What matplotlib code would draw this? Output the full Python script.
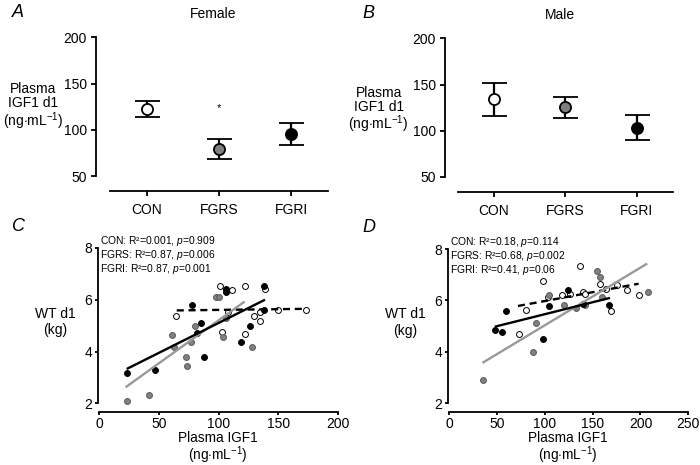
import matplotlib.pyplot as plt

plt.rcParams['font.family'] = ['Liberation Sans', 'DejaVu Sans']
plt.rcParams['mathtext.fontset'] = 'custom'
plt.rcParams['mathtext.rm'] = 'Liberation Sans'
plt.rcParams['mathtext.it'] = 'Liberation Sans:italic'

groups = ["CON", "FGRS", "FGRI"]
group_colors = ["white", "#808080", "black"]

# panel A / B: mean +- SEM of plasma IGF1 d1
female_mean = [122.5, 79.5, 95.5]
female_sem = [9.0, 11.0, 12.0]
male_mean = [134.0, 125.5, 103.0]
male_sem = [18.0, 11.5, 13.5]

# panel C: female WT d1 vs plasma IGF1
fem_con_x = [64, 101, 111, 108, 103, 122, 122, 130, 135, 135, 139, 150, 173]
fem_con_y = [5.39, 6.52, 6.36, 5.51, 4.75, 6.52, 4.68, 5.38, 5.51, 5.2, 6.41, 5.59, 5.59]
fem_fgrs_x = [23, 42, 61, 63, 73, 74, 77, 80, 98, 100, 104, 106, 128]
fem_fgrs_y = [2.09, 2.34, 4.65, 4.17, 3.81, 3.46, 4.36, 4.97, 6.09, 6.09, 4.57, 5.3, 4.17]
fem_fgri_x = [23, 47, 78, 82, 85, 88, 106, 106, 119, 126, 138, 138]
fem_fgri_y = [3.17, 3.3, 5.8, 4.71, 5.1, 3.79, 6.4, 6.3, 4.39, 4.99, 6.52, 5.59]

# panel D: male WT d1 vs plasma IGF1
male_con_x = [98, 103, 118, 80, 73, 137, 158, 176, 186, 164, 198, 140, 142, 126, 169]
male_con_y = [6.74, 6.12, 6.22, 5.64, 4.7, 7.34, 6.65, 6.61, 6.41, 6.44, 6.22, 6.32, 6.26, 6.25, 5.61]
male_fgrs_x = [104, 120, 91, 88, 35, 155, 158, 208, 133, 142, 160]
male_fgrs_y = [6.22, 5.83, 5.12, 4.0, 2.93, 7.15, 6.93, 6.32, 5.7, 5.83, 6.13]
male_fgri_x = [48, 55, 59, 98, 104, 124, 140, 167]
male_fgri_y = [4.84, 4.77, 5.61, 4.5, 5.77, 6.39, 5.88, 5.83]

# regression lines: slope, intercept, x start, x end
fem_fits = [(0.00057, 5.553, 65, 170), (0.0332, 1.886, 23, 121), (0.0231, 2.795, 24, 138)]
male_fits = [(0.00686, 5.293, 72, 198), (0.0224, 2.796, 36, 206), (0.0093, 4.537, 49, 167)]

fem_stats = ["CON: R²=0.001, $p$=0.909", "FGRS: R²=0.87, $p$=0.006", "FGRI: R²=0.87, $p$=0.001"]
male_stats = ["CON: R²=0.18, $p$=0.114", "FGRS: R²=0.68, $p$=0.002", "FGRI: R²=0.41, $p$=0.06"]

fit_styles = [dict(color='black', linestyle=(0, (3, 2))),
              dict(color='#999999', linestyle='-'),
              dict(color='black', linestyle='-')]

fig = plt.figure(figsize=(7, 4.65), dpi=100)


def style_axes(ax, ybounds, xbounds):
    for s in ['top', 'right']:
        ax.spines[s].set_visible(False)
    ax.spines['left'].set_bounds(*ybounds)
    ax.spines['bottom'].set_bounds(*xbounds)
    ax.spines['left'].set_linewidth(1.3)
    ax.spines['bottom'].set_linewidth(1.3)
    ax.tick_params(direction='out', width=1.3, labelsize=10)


def mean_panel(rect, means, sems, title, letter, ylab_x, ylab_y, xlim):
    ax = fig.add_axes(rect)
    for i in range(3):
        ax.errorbar(i, means[i], yerr=sems[i], fmt='o', mfc=group_colors[i], mec='black',
                    ms=8, mew=1.3, ecolor='black', elinewidth=1.6, capsize=9, capthick=2)
    ax.set_xlim(*xlim)
    ax.set_ylim(33.8, 200.5)
    ax.set_yticks([50, 100, 150, 200])
    ax.set_xticks([0, 1, 2])
    ax.set_xticklabels(groups)
    style_axes(ax, (50, 200), (-0.51, 2.51))
    ax.tick_params(axis='y', length=3.5, pad=3)
    ax.tick_params(axis='x', length=3.5, pad=5)
    ax.set_title(title, fontsize=10, pad=14)
    ax.set_ylabel("Plasma\nIGF1 d1\n(ng$\\cdot$mL$^{-1}$)", rotation=0, fontsize=10,
                  ha='center', va='center', linespacing=1.0)
    ax.yaxis.set_label_coords(ylab_x, ylab_y)
    ax.text(-0.36, 1.16, letter, transform=ax.transAxes, fontsize=13, style='italic',
            ha='left', va='center')
    return ax


axA = mean_panel([0.1371, 0.5892, 0.3343, 0.3312], female_mean, female_sem, "Female", "A",
                 -0.269, 0.545, (-0.708, 2.54))
axA.text(1, 124, "*", ha='center', va='center', fontsize=8)
axB = mean_panel([0.6357, 0.5877, 0.3271, 0.3306], male_mean, male_sem, "Male", "B",
                 -0.29, 0.528, (-0.685, 2.517))


def scatter_panel(rect, series, fits, stats, letter, xlim, xticks):
    ax = fig.add_axes(rect)
    for (xs, ys), col in zip(series, group_colors):
        ec = 'black' if col != '#808080' else '#5a5a5a'
        ax.scatter(xs, ys, s=18, c=col, edgecolors=ec, linewidths=0.7, zorder=2)
    for (m, b, x0, x1), st in zip(fits, fit_styles):
        ax.plot([x0, x1], [m * x0 + b, m * x1 + b], lw=1.7, zorder=3, **st)
    ax.set_xlim(*xlim)
    ax.set_ylim(1.68, 8.0)
    ax.set_yticks([2, 4, 6, 8])
    ax.set_xticks(xticks)
    style_axes(ax, (2, 8), (0, xticks[-1]))
    ax.tick_params(axis='both', length=2.5, pad=1.5)
    ax.set_xlabel("Plasma IGF1\n(ng$\\cdot$mL$^{-1}$)", fontsize=9.8, linespacing=0.95,
                  va='top')
    ax.xaxis.set_label_coords(0.5, -0.117)
    ax.set_ylabel("WT d1\n(kg)", rotation=0, fontsize=10, ha='center', va='center',
                  linespacing=1.25)
    ax.yaxis.set_label_coords(-0.177, 0.548)
    for k, s in enumerate(stats):
        ax.text(0.008, 1.043 - 0.086 * k, s, transform=ax.transAxes, fontsize=7.4,
                ha='left', va='center')
    ax.text(-0.355, 1.13, letter, transform=ax.transAxes, fontsize=13, style='italic',
            ha='left', va='center')
    return ax


scatter_panel([0.1396, 0.1146, 0.3433, 0.3521],
              [(fem_con_x, fem_con_y), (fem_fgrs_x, fem_fgrs_y), (fem_fgri_x, fem_fgri_y)],
              fem_fits, fem_stats, "C", (-1.1, 200), [0, 50, 100, 150, 200])
scatter_panel([0.6396, 0.1146, 0.3437, 0.3499],
              [(male_con_x, male_con_y), (male_fgrs_x, male_fgrs_y), (male_fgri_x, male_fgri_y)],
              male_fits, male_stats, "D", (-1.4, 250), [0, 50, 100, 150, 200, 250])

fig.savefig("out.png", dpi=100)
